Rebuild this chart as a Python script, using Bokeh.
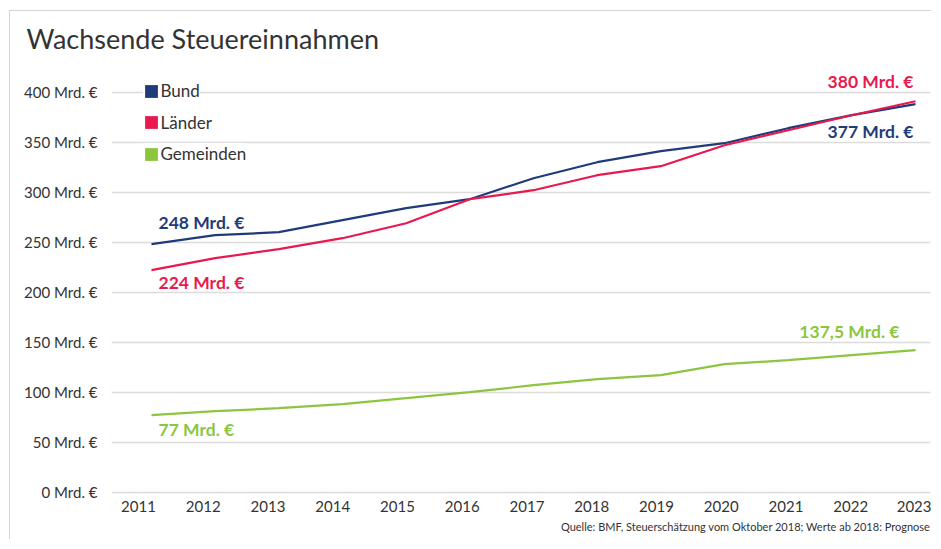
from bokeh.plotting import figure
from bokeh.models import Legend, LegendItem, FixedTicker, Range1d, LinearAxis, Title, Grid
from bokeh.core.properties import value
from bokeh.embed import file_html
from bokeh.resources import INLINE

# ---- data ----
years = [2011, 2012, 2013, 2014, 2015, 2016, 2017, 2018, 2019, 2020, 2021, 2022, 2023]
bund = [248, 257, 260, 272, 284, 293, 314, 330, 341, 349, 364, 377, 388]
laender = [222, 234, 243, 254, 269, 293, 302, 317, 326, 347, 362, 377, 391]
gemeinden = [77, 81, 84, 88, 94, 100, 107, 113, 117, 128, 132, 137, 142]
series_names = ["Bund", "Länder", "Gemeinden"]
y_ticks = [0, 50, 100, 150, 200, 250, 300, 350, 400]
y_tick_labels = {t: f"{t} Mrd. €" for t in y_ticks}
start_labels = ["248 Mrd. €", "224 Mrd. €", "77 Mrd. €"]
end_labels = ["377 Mrd. €", "380 Mrd. €", "137,5 Mrd. €"]
title_text = "Wachsende Steuereinnahmen"
source_text = "Quelle: BMF, Steuerschätzung vom Oktober 2018; Werte ab 2018: Prognose"

NAVY = "#1f3b7a"
RED = "#e8194f"
GREEN = "#8cc63f"
TXT = "#333333"
FONT = "Lato"

p = figure(width=922, height=529, output_backend="svg", toolbar_location=None,
           x_range=Range1d(2010.3717, 2023.2356), y_range=Range1d(-2.3, 431.7),
           x_axis_location=None,
           min_border_left=101, min_border_right=2, min_border_top=49, min_border_bottom=46)
p.extra_x_ranges = {"labels": Range1d(2010.583, 2023.2317)}
p.styles = {"margin-left": "9px", "margin-top": "10px",
            "border-left": "1px solid #d4d4d4", "border-top": "1px solid #d4d4d4"}
p.outline_line_color = None
p.background_fill_color = "white"
p.border_fill_color = "white"

# title
p.title.text = title_text
p.title.text_font = FONT
p.title.text_font_size = "27px"
p.title.text_font_style = "normal"
p.title.text_color = TXT
p.title.align = "left"
p.title.offset = -85
p.title.standoff = 12

# grid / axes
for g in p.select(type=Grid):
    if g.dimension == 0:
        g.visible = False
p.ygrid.grid_line_color = "#dcdcdc"
p.ygrid.grid_line_width = 1.5
p.yaxis.ticker = FixedTicker(ticks=y_ticks)
p.yaxis.major_label_overrides = y_tick_labels

xax = LinearAxis(x_range_name="labels", ticker=FixedTicker(ticks=years))
p.add_layout(xax, "below")
for ax in (xax, p.yaxis[0]):
    ax.axis_line_color = None
    ax.major_tick_line_color = None
    ax.minor_tick_line_color = None
    ax.major_label_text_font = FONT
    ax.major_label_text_font_size = "15px"
    ax.major_label_text_color = TXT
p.yaxis.major_label_standoff = 8
xax.major_label_standoff = 0

# lines
p.line(years, gemeinden, line_width=2.2, line_color=GREEN)
p.line(years, bund, line_width=2.2, line_color=NAVY)
p.line(years, laender, line_width=2.2, line_color=RED)

# value labels
def lab(x, y, txt, color, align, dx, dy):
    p.text(x=[x], y=[y], text=[txt], text_align=align, text_baseline="middle",
           x_offset=dx, y_offset=dy, text_font=value(FONT), text_font_style="bold",
           text_font_size="17.5px", text_color=color)

lab(years[0], bund[0], start_labels[0], NAVY, "left", 7, -22)
lab(years[0], laender[0], start_labels[1], RED, "left", 7, 12)
lab(years[0], gemeinden[0], start_labels[2], GREEN, "left", 7, 14)
lab(years[-1], bund[-1], end_labels[0], NAVY, "right", -2, 27)
lab(years[-1], laender[-1], end_labels[1], RED, "right", -2, -20)
lab(years[-1], gemeinden[-1], end_labels[2], GREEN, "right", -16, -19)

# legends: one per entry, each with its own white box
nan = float("nan")
for i, (name, color) in enumerate(zip(series_names, [NAVY, RED, GREEN])):
    r = p.quad(left=[nan], right=[nan], top=[nan], bottom=[nan],
               fill_color=color, line_color=None)
    leg = Legend(items=[LegendItem(label=name, renderers=[r])],
                 location=(31.5, 393 - 31.5 * i))
    leg.glyph_width = 16
    leg.glyph_height = 16
    leg.label_height = 16
    leg.label_standoff = 2
    leg.padding = 2
    leg.margin = 0
    leg.spacing = 0
    leg.border_line_color = None
    leg.background_fill_color = "white"
    leg.background_fill_alpha = 1
    leg.label_text_font = FONT
    leg.label_text_font_size = "17px"
    leg.label_text_color = TXT
    p.add_layout(leg)

# source note
p.add_layout(Title(text=source_text, align="right", text_font=FONT, text_font_size="11px",
                   text_font_style="normal", text_color=TXT, standoff=6), "below")

open("out.html", "w").write(file_html(p, INLINE))
